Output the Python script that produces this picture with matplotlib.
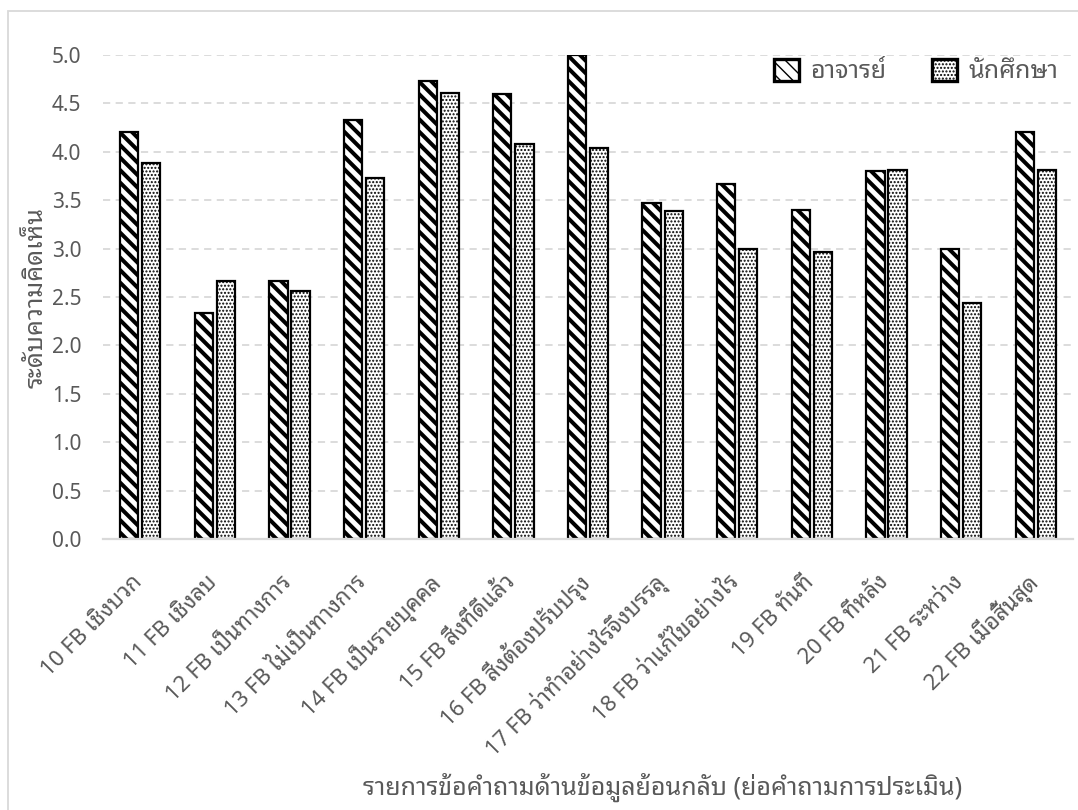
import numpy as np
import matplotlib
matplotlib.use('Agg')
import matplotlib.pyplot as plt
from matplotlib.transforms import ScaledTranslation

categories = ['10 FB เชิงบวก', '11 FB เชิงลบ', '12 FB เป็นทางการ', '13 FB ไม่เป็นทางการ',
              '14 FB เป็นรายบุคคล', '15 FB สิ่งที่ดีแล้ว', '16 FB สิ่งต้องปรับปรุง',
              '17 FB ว่าทำอย่างไรจึงบรรลุ', '18 FB ว่าแก้ไขอย่างไร', '19 FB ทันที',
              '20 FB ทีหลัง', '21 FB ระหว่าง', '22 FB เมื่อสิ้นสุด']
teacher = [4.20, 2.33, 2.67, 4.33, 4.73, 4.60, 5.00, 3.47, 3.67, 3.40, 3.80, 3.00, 4.20]
student = [3.88, 2.67, 2.56, 3.73, 4.61, 4.08, 4.04, 3.39, 3.00, 2.96, 3.81, 2.44, 3.81]
series_names = ['อาจารย์', 'นักศึกษา']
yticks = [0.0, 0.5, 1.0, 1.5, 2.0, 2.5, 3.0, 3.5, 4.0, 4.5, 5.0]

# higher dpi so the hatch spacing comes out like the Excel patterns
DPI = 150
def pt(v):
    return v * 100 / DPI

plt.rcParams['font.family'] = ['Noto Sans Thai Looped', 'Noto Sans', 'DejaVu Sans']
grey = '#595959'

fig = plt.figure(figsize=(1078 / DPI, 810 / DPI), dpi=DPI)
ax = fig.add_axes([103 / 1078, 1 - 539 / 810, 970 / 1078, 484 / 810])

x = np.arange(len(categories))
w = 0.245
stripe_lw = pt(2.9)
dot_lw = pt(1.0)

plt.rcParams['hatch.linewidth'] = stripe_lw
b1 = ax.bar(x - 0.148, teacher, w, color='white', edgecolor='black', linewidth=pt(1.6),
            hatch='\\\\\\\\', label=series_names[0], zorder=3)
plt.rcParams['hatch.linewidth'] = dot_lw
b2 = ax.bar(x + 0.148, student, w, color='white', edgecolor='black', linewidth=pt(1.6),
            hatch='.......', label=series_names[1], zorder=3)
for p in b1:
    if hasattr(p, 'set_hatch_linewidth'):
        p.set_hatch_linewidth(stripe_lw)
for p in b2:
    if hasattr(p, 'set_hatch_linewidth'):
        p.set_hatch_linewidth(dot_lw)

ax.set_xlim(-0.5, len(categories) - 0.5)
ax.set_ylim(0, 5)
ax.set_yticks(yticks)
ax.set_yticklabels([f'{v:.1f}' for v in yticks], color=grey, fontsize=pt(15),
                   family=['Noto Sans', 'DejaVu Sans'])
ax.set_xticks(x)
ax.set_xticklabels(categories, rotation=45, ha='right', va='center', rotation_mode='anchor',
                   color=grey, fontsize=pt(16))
ax.tick_params(axis='y', length=0, pad=pt(15.6))
ax.tick_params(axis='x', length=0, pad=pt(21))
shift = ScaledTranslation(-1 / DPI, -11 / DPI, fig.dpi_scale_trans)
for lab in ax.get_xticklabels():
    lab.set_transform(lab.get_transform() + shift)
ax.yaxis.grid(True, linestyle=(0, (4, 3)), color='#d9d9d9', linewidth=pt(1.3), zorder=0)
for s in ['top', 'right', 'left']:
    ax.spines[s].set_visible(False)
ax.spines['bottom'].set_color('#d9d9d9')
ax.spines['bottom'].set_linewidth(pt(1.6))
ax.spines['bottom'].set_zorder(4)

ax.set_ylabel('ระดับความคิดเห็น', color=grey, fontsize=pt(18))
ax.yaxis.set_label_coords(-0.056, 0.5)
fig.text(663 / 1078, 1 - 787 / 810, 'รายการข้อคำถามด้านข้อมูลย้อนกลับ (ย่อคำถามการประเมิน)',
         ha='center', va='center', color=grey, fontsize=pt(18))

leg = ax.legend(loc='upper right', bbox_to_anchor=(1.0, 1.0227), ncol=2, frameon=False,
                fontsize=pt(18), handlelength=1.0, handleheight=0.95, columnspacing=1.84,
                handletextpad=0.45, labelcolor=grey, borderaxespad=0.2)
for h in leg.legend_handles:
    h.set_linewidth(pt(2.4))

# chart area border
fig.patches.append(plt.Rectangle((8 / 1078, -0.01), 1.1, 1 - 11 / 810 + 0.01,
                                 transform=fig.transFigure, fill=False,
                                 edgecolor='#d9d9d9', linewidth=pt(1.3)))

fig.savefig('out.png', dpi=DPI)
